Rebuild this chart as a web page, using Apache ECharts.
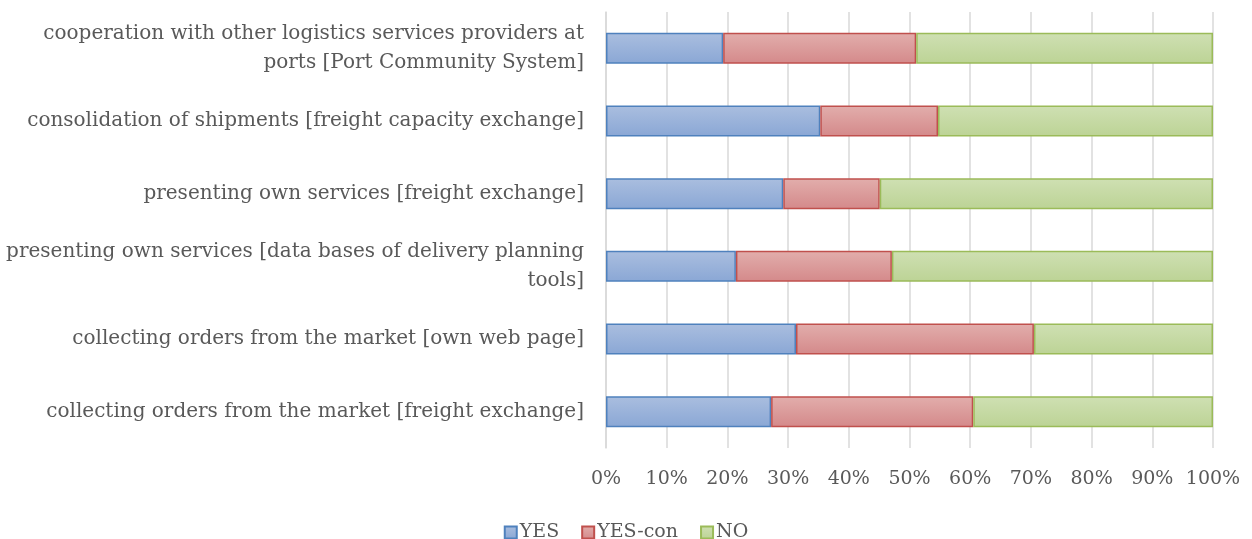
<!DOCTYPE html>
<html>
<head>
<meta charset="utf-8">
<script src="https://cdn.jsdelivr.net/npm/echarts@6/dist/echarts.min.js"></script>
<style>
  html, body { margin: 0; padding: 0; background: #fff; }
  #chart { width: 1252px; height: 539px; }
</style>
</head>
<body>
<div id="chart"></div>
<script>
// categories, bottom to top
var categories = [
  'collecting orders from the market [freight exchange]',
  'collecting orders from the market [own web page]',
  'presenting own services [data bases of delivery planning\ntools]',
  'presenting own services [freight exchange]',
  'consolidation of shipments [freight capacity exchange]',
  'cooperation with other logistics services providers at\nports [Port Community System]'
];
var yesValues = [27.2, 31.3, 21.4, 29.2, 35.3, 19.3];
var yesConValues = [33.3, 39.2, 25.7, 15.9, 19.4, 31.8];
var noValues = [39.5, 29.5, 52.9, 54.9, 45.3, 48.9];
var xTicks = [0, 10, 20, 30, 40, 50, 60, 70, 80, 90, 100];

var fontFamily = 'DejaVu Serif';
var textColor = '#595959';

function grad(top, bottom) {
  return new echarts.graphic.LinearGradient(0, 0, 0, 1, [
    { offset: 0, color: top },
    { offset: 1, color: bottom }
  ]);
}

var chart = echarts.init(document.getElementById('chart'));
chart.setOption({
  animation: false,
  grid: { left: 606, right: 39, top: 12, bottom: 91, containLabel: false },
  legend: {
    top: 518,
    left: 'center',
    itemWidth: 12,
    itemHeight: 12,
    itemGap: 22,
    icon: 'rect',
    textStyle: { fontFamily: fontFamily, fontSize: 19, color: textColor, padding: [0, 0, 0, -2] },
    data: ['YES', 'YES-con', 'NO']
  },
  xAxis: {
    type: 'value',
    min: 0,
    max: 100,
    interval: 10,
    axisLine: { show: false },
    axisTick: { show: false },
    splitLine: { lineStyle: { color: '#d9d9d9', width: 1.5 } },
    axisLabel: {
      margin: 22,
      fontFamily: fontFamily,
      fontSize: 19,
      color: textColor,
      formatter: function (v) { return xTicks.indexOf(v) >= 0 ? v + '%' : ''; }
    }
  },
  yAxis: {
    type: 'category',
    data: categories,
    axisLine: { show: true, lineStyle: { color: '#d9d9d9', width: 1.5 } },
    axisTick: { show: false },
    axisLabel: {
      margin: 22,
      fontFamily: fontFamily,
      fontSize: 20,
      lineHeight: 29,
      color: textColor,
      align: 'right'
    }
  },
  series: [
    {
      name: 'YES', type: 'bar', stack: 'total', barWidth: 31,
      itemStyle: { color: grad('#aabedf', '#8aa7d5'), borderColor: '#4f81bd', borderWidth: 1.5 },
      data: yesValues
    },
    {
      name: 'YES-con', type: 'bar', stack: 'total', barWidth: 31,
      itemStyle: { color: grad('#e2aeac', '#d4898a'), borderColor: '#c0504d', borderWidth: 1.5 },
      data: yesConValues
    },
    {
      name: 'NO', type: 'bar', stack: 'total', barWidth: 31,
      itemStyle: { color: grad('#cfe0b3', '#bcd395'), borderColor: '#9bbb59', borderWidth: 1.5 },
      data: noValues
    }
  ]
});
</script>
</body>
</html>
